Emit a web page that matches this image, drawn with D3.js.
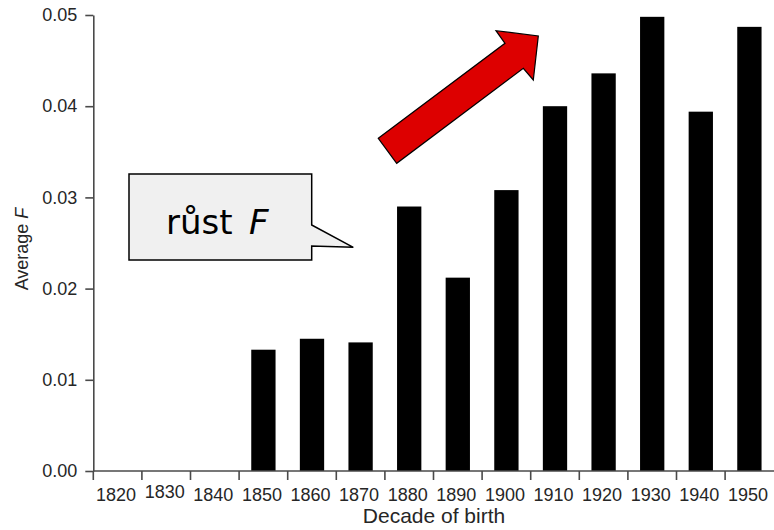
<!DOCTYPE html>
<html>
<head>
<meta charset="utf-8">
<script src="https://cdn.jsdelivr.net/npm/d3@7"></script>
<style>
  html, body { margin: 0; padding: 0; background: #fff; }
  svg { display: block; }
</style>
</head>
<body>
<svg id="chart" width="774" height="530"></svg>
<script>
const decades = ["1820","1830","1840","1850","1860","1870","1880","1890","1900","1910","1920","1930","1940","1950"];
const averageF = [null, null, null, 0.0133, 0.0145, 0.0141, 0.0290, 0.0212, 0.0308, 0.0400, 0.0436, 0.0498, 0.0394, 0.0487];
const yTicks = [0, 0.01, 0.02, 0.03, 0.04, 0.05];
const xTitle = "Decade of birth";
const yTitle = "Average ";
const yTitleItalic = "F";
const calloutWord = "růst";
const calloutItalic = "F";

(function () {
const svg = d3.select("#chart");
const mLeft = 93.3, mRight = 773.7, mTop = 15, mBottom = 471;

const x = d3.scaleBand().domain(decades).range([mLeft, mRight]).paddingInner(0.5).paddingOuter(0.25);
const xOuter = d3.scaleBand().domain(decades).range([mLeft, mRight]).padding(0);
const y = d3.scaleLinear().domain([0, 0.05]).range([mBottom, mTop]);

const font = "'Liberation Sans', Arial, Helvetica, sans-serif";
const axisColor = "#4a4a4a";
const textColor = "#262626";

// Bars
svg.append("g").selectAll("rect")
  .data(decades.map((d, i) => ({d, v: averageF[i]})).filter(o => o.v != null))
  .join("rect")
  .attr("x", o => x(o.d))
  .attr("width", x.bandwidth())
  .attr("y", o => y(o.v))
  .attr("height", o => y(0) - y(o.v))
  .attr("fill", "#000");

// Y axis
const yAxis = svg.append("g")
  .attr("transform", `translate(${mLeft},0)`)
  .call(d3.axisLeft(y).tickValues(yTicks).tickFormat(d3.format(".2f")).tickSize(8).tickSizeOuter(0).tickPadding(8));
yAxis.select(".domain").attr("stroke", axisColor).attr("stroke-width", 1.6);
yAxis.selectAll(".tick line").attr("stroke", axisColor).attr("stroke-width", 1.6);
yAxis.selectAll(".tick text").attr("fill", textColor).style("font-family", font).style("font-size", "18px");

// X axis line
const xg = svg.append("g");
xg.append("line")
  .attr("x1", mLeft).attr("x2", mRight + 1)
  .attr("y1", mBottom).attr("y2", mBottom)
  .attr("stroke", axisColor).attr("stroke-width", 1.6);
// boundary ticks
xg.selectAll("line.tk")
  .data(decades)
  .join("line")
  .attr("class", "tk")
  .attr("x1", d => xOuter(d)).attr("x2", d => xOuter(d))
  .attr("y1", mBottom).attr("y2", mBottom + 9)
  .attr("stroke", axisColor).attr("stroke-width", 1.6);
// labels
xg.selectAll("text")
  .data(decades)
  .join("text")
  .attr("x", d => xOuter(d) + xOuter.bandwidth() / 2 - 1.5)
  .attr("y", d => d === "1830" ? 498 : 501)
  .attr("text-anchor", "middle")
  .attr("fill", textColor)
  .style("font-family", font)
  .style("font-size", "18px")
  .text(d => d);

// Axis titles
svg.append("text")
  .attr("x", 434).attr("y", 523)
  .attr("text-anchor", "middle")
  .attr("fill", textColor)
  .style("font-family", font).style("font-size", "21px")
  .text(xTitle);

const yt = svg.append("text")
  .attr("transform", "translate(28,249) rotate(-90)")
  .attr("text-anchor", "middle")
  .attr("fill", textColor)
  .style("font-family", font).style("font-size", "18px");
yt.append("tspan").text(yTitle);
yt.append("tspan").style("font-style", "italic").text(yTitleItalic);

// Callout
const callout = [[129,174],[311.7,174],[311.7,225],[353.3,247.3],[311.7,246],[311.7,260],[129,260]];
svg.append("path")
  .attr("d", d3.line()(callout) + "Z")
  .attr("fill", "#f0f0f0")
  .attr("stroke", "#000")
  .attr("stroke-width", 1.5);
const ct = svg.append("text")
  .attr("x", 166).attr("y", 234)
  .attr("fill", "#000")
  .style("font-family", "'DejaVu Sans', Verdana, sans-serif")
  .style("font-size", "34px");
ct.append("tspan").text(calloutWord);
ct.append("tspan").attr("x", 249).style("font-style", "italic").text(calloutItalic);

// Arrow
const arrow = [[378.3,138.3],[505,43.3],[496,30.7],[538.3,36],[533.3,80],[523.3,68.3],[396.7,163.3]];
svg.append("path")
  .attr("d", d3.line()(arrow) + "Z")
  .attr("fill", "#dd0000")
  .attr("stroke", "#000")
  .attr("stroke-width", 1.2)
  .attr("stroke-linejoin", "miter");
})();
</script>
</body>
</html>
